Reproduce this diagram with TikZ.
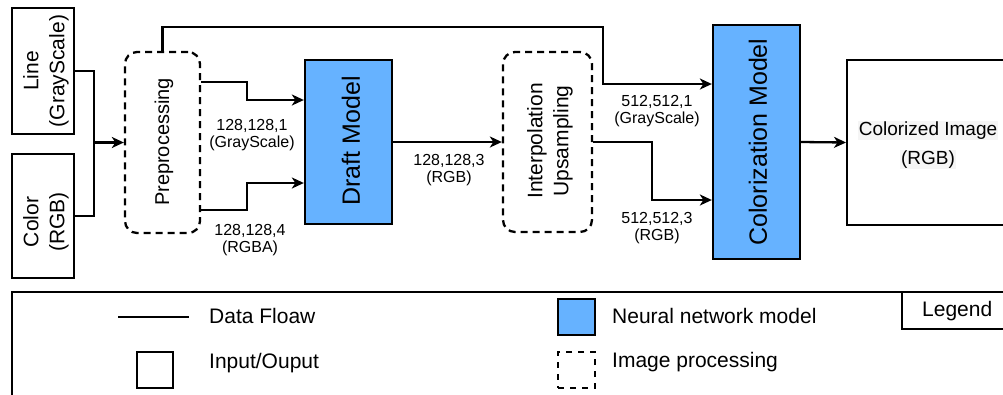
\documentclass[tikz,border=0pt]{standalone}
\usepackage{fontspec}
\setmainfont{Liberation Sans}
\usetikzlibrary{arrows.meta}
\definecolor{nnblue}{HTML}{66B2FF}
\definecolor{hl}{HTML}{F5F5F5}
\setlength{\fboxsep}{1pt}
\begin{document}
\begin{tikzpicture}[x=1pt,y=-1pt,
  box/.style={draw, line width=2.3pt, inner sep=0pt},
  iobox/.style={box, fill=white},
  nnbox/.style={box, fill=nnblue},
  procbox/.style={box, dash pattern=on 7pt off 5pt, rounded corners=12pt},
  flow/.style={line width=2.3pt, -{Stealth[length=12pt,width=11pt,inset=3.5pt]}},
  wire/.style={line width=2.3pt},
  lbl/.style={font=\fontsize{16}{17}\selectfont, align=center, inner sep=0pt},
  big/.style={font=\fontsize{21}{26}\selectfont, align=center, inner sep=0pt, rotate=90},
  leg/.style={font=\fontsize{21}{25}\selectfont, anchor=west, inner sep=0pt},
]
\useasboundingbox (0,0) rectangle (1003,394);
\clip (0,0) rectangle (1003,394);

% main boxes
\node[iobox, minimum width=62pt, minimum height=126pt] (line) at (43,71) {};
\node[iobox, minimum width=62pt, minimum height=124pt] (color) at (43,216) {};
\node[procbox, minimum width=75pt, minimum height=181pt] (pre) at (162.5,142.5) {};
\node[nnbox, minimum width=87pt, minimum height=164pt] (draft) at (348.5,142) {};
\node[procbox, minimum width=89pt, minimum height=180pt] (interp) at (547.5,142) {};
\node[nnbox, minimum width=87pt, minimum height=234pt] (col) at (756.5,142) {};
\node[iobox, minimum width=170pt, minimum height=165pt, anchor=west] (out) at (846,142.5) {};

% box texts
\node[big] (linet) at (46,71) {Line\\(GrayScale)};
\node[big] (colort) at (46,222) {Color\\(RGB)};
\node[big, font=\fontsize{20}{24}\selectfont] (pret) at (164,142) {Preprocessing};
\node[big, font=\fontsize{25}{30}\selectfont] (draftt) at (351,141) {Draft Model};
\node[big, font=\fontsize{21}{26}\selectfont] (interpt) at (550,141) {Interpolation\\Upsampling};
\node[big, font=\fontsize{25}{30}\selectfont] (colt) at (758,142) {Colorization Model};
\node[font=\fontsize{19}{29}\selectfont, align=center, inner sep=0pt] (outt) at (928,145)
  {\colorbox{hl}{Colorized Image}\\\colorbox{hl}{(RGB)}};

% connectors
\coordinate (j) at (94,142.5);
\draw[flow] (line.east) -| (j) -- (pre.west);
\draw[wire] (color.east) -| (j);
\draw[flow] (pre.north) -- (pre.north |- 0,27) -| (603,84) -- (col.west |- 0,84);
\draw[flow] (pre.east |- 0,82) -| (247,100) -- (draft.west |- 0,100);
\draw[flow] (pre.east |- 0,210) -| (247,183) -- (draft.west |- 0,183);
\draw[flow] (draft.east) -- (interp.west);
\draw[flow] (interp.east) -| (652,200) -- (col.west |- 0,200);
\draw[flow] (col.east) -- (out.west);

% connector labels
\node[lbl] (l1) at (252,135) {128,128,1\\(GrayScale)};
\node[lbl] (l2) at (250,240) {128,128,4\\(RGBA)};
\node[lbl] (l3) at (449,170) {128,128,3\\(RGB)};
\node[lbl] (l4) at (657,111) {512,512,1\\(GrayScale)};
\node[lbl] (l5) at (657,228) {512,512,3\\(RGB)};

% legend
\draw[line width=2.3pt] (12,400) -- (12,292) -- (1015,292);
\draw[line width=2.3pt, fill=white] (1015,329) -- (902,329) -- (902,292) -- (1015,292);
\node[leg] (legt) at (922,311) {Legend};
\coordinate (ls) at (118,317);
\coordinate (le) at (189,317);
\draw[wire] (ls) -- (le);
\node[leg] (legflow) at (209,316) {Data Floaw};
\node[iobox, minimum width=36pt, minimum height=36pt] (legio) at (155,370) {};
\node[leg] (legiot) at (209,363) {Input/Ouput};
\node[nnbox, minimum width=37pt, minimum height=36pt] (legnn) at (576.5,317) {};
\node[leg] (legnnt) at (612,316) {Neural network model};
\node[box, dash pattern=on 6pt off 6pt, minimum width=37pt, minimum height=36pt] (legip) at (576.5,370) {};
\node[leg] (legipt) at (612,362) {Image processing};
\end{tikzpicture}
\end{document}
